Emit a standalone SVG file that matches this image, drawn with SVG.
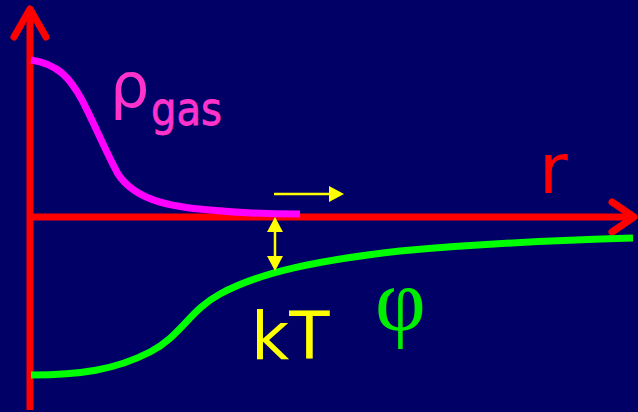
<svg xmlns="http://www.w3.org/2000/svg" width="638" height="412" viewBox="0 0 638 412">
<style>
.axis{stroke:#ff0000;stroke-width:7;fill:none;stroke-linecap:round;stroke-linejoin:round}
.ylw{stroke:#ffff00;stroke-width:2.5;fill:none}
.head{fill:#ffff00}
.lbl{font-family:"DejaVu Sans","Liberation Sans",sans-serif}
</style>
<rect x="0" y="0" width="638" height="412" fill="#000066"/>
<g id="axes">
  <line class="axis" x1="30" y1="410" x2="30" y2="9" style="stroke-linecap:butt"/>
  <polyline class="axis" points="14,37 30,9 46,37"/>
  <line class="axis" x1="30" y1="217" x2="632" y2="217" style="stroke-linecap:butt"/>
  <polyline class="axis" points="612,202 634,217 612,232"/>
</g>
<g id="rho-curve">
  <path d="M31,60 C58,64 70,78 82,100 C95,125 105,150 118,174 C135,200 170,207 210,210 C240,213 270,214 300,214" stroke="#ff00ff" stroke-width="7" fill="none"/>
</g>
<g id="phi-curve">
  <path d="M31,375 C80,375 115,370 150,352 C180,337 190,310 220,294 C260,272 320,260 400,251 C480,244 560,240 633,238" stroke="#00ff00" stroke-width="7" fill="none"/>
</g>
<g id="connectors">
  <line class="ylw" x1="274" y1="194" x2="331" y2="194"/>
  <polygon class="head" points="329,186 344,194 329,202"/>
  <line class="ylw" x1="275" y1="230" x2="275" y2="258"/>
  <polygon class="head" points="275,217 267,232 283,232"/>
  <polygon class="head" points="275,271 267,256 283,256"/>
</g>
<g id="label-rho">
  <text class="lbl" x="110" y="107" font-size="62" fill="#ff33cc">ρ</text>
  <text class="lbl" x="151" y="125" font-size="46" fill="#ff33cc" stroke="#ff33cc" stroke-width="0.8" textLength="71" lengthAdjust="spacingAndGlyphs">gas</text>
</g>
<g id="label-r">
  <text class="lbl" x="539" y="193" font-size="70" fill="#ff0000">r</text>
</g>
<g id="label-kT">
  <text class="lbl" x="251" y="359" font-size="66" fill="#ffff00">kT</text>
</g>
<g id="label-phi">
  <text x="375" y="330" font-family="'Liberation Serif',serif" font-size="88" fill="#00ee00">φ</text>
</g>
</svg>
